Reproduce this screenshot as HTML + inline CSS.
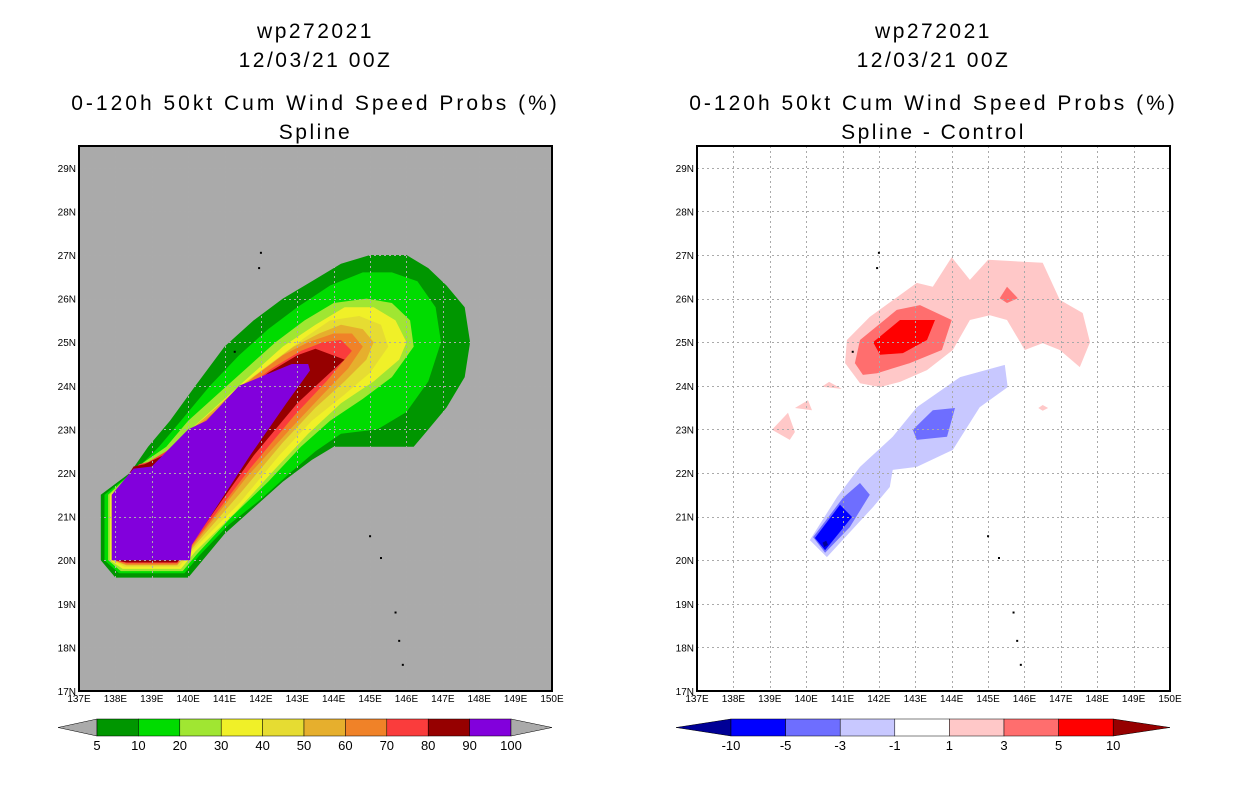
<!DOCTYPE html>
<html><head><meta charset="utf-8"><style>
body{margin:0;background:#fff;}
svg{display:block;font-family:"Liberation Sans",sans-serif;}
</style></head><body>
<svg id="root" width="1236" height="800" viewBox="0 0 1236 800">
<g id="left"></g>
<g id="right"></g>
</svg>
<script>
const lonTicks=[137,138,139,140,141,142,143,144,145,146,147,148,149,150];
const latTicks=[17,18,19,20,21,22,23,24,25,26,27,28,29];
const probLevels=['5','10','20','30','40','50','60','70','80','90','100'];
const probColors=['#009600','#00dc00','#a0e632','#f0f028','#e6dc32','#e6af2d','#f08228','#fa3c3c','#960000','#8200dc'];
const diffLevels=['-10','-5','-3','-1','1','3','5','10'];
const diffColors=['#000096','#0000ff','#6e6eff','#c8c8ff','#ffffff','#ffc8c8','#ff6e6e','#ff0000','#960000'];
const probBands=[
[[137.6,21.5],[137.6,20.0],[138.0,19.6],[140.0,19.6],[140.4,20.0],[141.0,20.6],[141.8,21.2],[142.6,21.8],[143.4,22.3],[144.0,22.6],[145.2,22.6],[146.2,22.6],[146.5,22.9],[147.1,23.5],[147.6,24.2],[147.75,25.0],[147.6,25.8],[147.1,26.3],[146.6,26.7],[146.0,27.0],[145.0,27.0],[144.2,26.8],[143.4,26.4],[142.6,26.0],[141.8,25.5],[141.0,24.9],[140.2,24.0],[139.5,23.2],[138.9,22.6],[138.4,22.0]],
[[137.7,21.5],[137.7,20.0],[138.1,19.7],[139.9,19.7],[140.3,20.1],[141.1,20.8],[142.0,21.4],[142.8,22.0],[143.5,22.5],[144.2,22.9],[145.2,23.0],[146.0,23.4],[146.6,24.1],[146.95,25.0],[146.8,25.8],[146.3,26.4],[145.6,26.6],[144.8,26.6],[143.9,26.3],[143.0,25.8],[142.2,25.3],[141.4,24.7],[140.6,24.0],[139.8,23.2],[139.2,22.6],[138.6,22.1]],
[[137.8,21.5],[137.8,20.0],[138.15,19.75],[139.85,19.75],[140.25,20.15],[141.2,21.0],[142.2,21.8],[143.1,22.6],[143.9,23.2],[144.8,23.7],[145.6,24.2],[146.2,24.9],[146.1,25.5],[145.6,25.9],[144.9,26.0],[144.0,25.9],[143.2,25.5],[142.4,25.0],[141.6,24.4],[140.8,23.8],[140.0,23.2],[139.4,22.6],[138.7,22.2]],
[[137.85,21.5],[137.85,20.0],[138.2,19.8],[139.8,19.8],[140.2,20.2],[141.3,21.1],[142.4,22.1],[143.3,22.9],[144.2,23.6],[145.1,24.1],[145.8,24.6],[146.0,25.0],[145.7,25.5],[145.1,25.8],[144.3,25.8],[143.5,25.4],[142.6,24.9],[141.8,24.3],[141.0,23.7],[140.2,23.1],[139.5,22.5],[138.8,22.2]],
[[137.9,21.5],[137.9,20.0],[138.25,19.85],[139.75,19.85],[140.15,20.25],[141.4,21.3],[142.5,22.4],[143.4,23.2],[144.3,23.8],[145.0,24.3],[145.5,24.9],[145.3,25.4],[144.7,25.6],[143.9,25.5],[143.2,25.1],[142.4,24.6],[141.6,24.1],[140.8,23.5],[140.0,22.9],[139.3,22.4],[138.8,22.2]],
[[137.92,21.5],[137.92,20.0],[138.3,19.88],[139.7,19.88],[140.12,20.28],[141.5,21.6],[142.6,22.7],[143.5,23.5],[144.3,24.1],[144.9,24.6],[145.1,25.0],[144.8,25.3],[144.2,25.4],[143.6,25.2],[142.9,24.9],[142.1,24.4],[141.3,23.9],[140.5,23.3],[139.8,22.8],[139.2,22.35],[138.75,22.2]],
[[137.95,21.5],[137.95,20.0],[138.3,19.9],[139.7,19.9],[140.1,20.3],[141.6,21.9],[142.8,23.0],[143.7,23.8],[144.4,24.4],[144.8,24.9],[144.5,25.2],[144.0,25.2],[143.3,25.0],[142.6,24.7],[141.8,24.2],[141.0,23.6],[140.3,23.1],[139.6,22.6],[139.1,22.3],[138.7,22.2]],
[[137.97,21.5],[137.97,20.0],[138.3,19.93],[139.7,19.93],[140.08,20.32],[141.7,22.1],[142.9,23.3],[143.8,24.1],[144.5,24.8],[144.2,25.05],[143.7,25.0],[143.1,24.8],[142.3,24.4],[141.5,23.9],[140.7,23.3],[140.0,22.9],[139.4,22.5],[138.9,22.25],[138.65,22.2]],
[[138.0,21.5],[138.0,20.0],[138.3,19.95],[139.7,19.95],[140.05,20.33],[141.8,22.4],[143.0,23.6],[143.9,24.3],[144.3,24.6],[143.5,24.85],[143.0,24.7],[142.2,24.3],[141.3,23.7],[140.5,23.15],[139.9,22.8],[139.3,22.4],[138.8,22.2],[138.5,22.15]],
[[137.9,21.5],[137.9,20.0],[140.05,20.0],[140.1,20.35],[141.7,22.4],[142.7,23.6],[143.35,24.35],[143.3,24.5],[142.85,24.5],[141.4,24.0],[140.5,23.2],[140.0,23.0],[139.0,22.15],[138.5,22.1]]
];
const diffBands=[
[5,[[141.07,24.52],[141.12,25.05],[141.75,25.58],[143.04,26.36],[143.48,26.27],[144.0,26.95],[144.5,26.43],[145.0,26.89],[146.5,26.82],[146.97,25.97],[147.6,25.67],[147.8,25.0],[147.52,24.43],[146.97,24.82],[146.5,24.98],[146.01,24.82],[145.52,25.51],[145.05,25.62],[144.5,25.51],[144.03,24.82],[143.32,24.36],[142.58,24.09],[142.03,23.97],[141.48,24.06]]],
[6,[[141.34,24.52],[141.48,25.05],[142.49,25.74],[143.13,25.85],[144.0,25.51],[143.73,24.82],[142.85,24.52],[141.95,24.29],[141.56,24.25]]],
[7,[[141.84,25.0],[142.58,25.51],[143.54,25.51],[143.32,25.05],[142.66,24.75],[142.03,24.71]]],
[6,[[145.52,26.27],[145.82,26.01],[145.52,25.9],[145.32,26.01]]],
[5,[[140.43,23.98],[140.63,24.09],[140.98,23.93]]],
[5,[[139.69,23.49],[140.05,23.67],[140.16,23.44]]],
[5,[[139.06,22.99],[139.5,23.38],[139.69,22.94],[139.55,22.76]]],
[5,[[146.38,23.49],[146.5,23.56],[146.65,23.49],[146.5,23.43]]],
[3,[[140.1,20.46],[140.85,21.45],[141.48,22.14],[142.38,22.83],[143.04,23.51],[144.23,24.2],[145.46,24.48],[145.54,23.97],[144.77,23.51],[144.03,22.53],[143.04,22.14],[142.38,22.07],[142.3,21.68],[141.84,21.22],[140.57,20.07]]],
[2,[[142.93,22.99],[143.48,23.44],[144.09,23.49],[143.87,22.83],[143.04,22.76]]],
[2,[[140.19,20.53],[141.01,21.43],[141.48,21.77],[141.75,21.5],[141.2,20.76],[140.52,20.17]]],
[1,[[140.24,20.51],[140.93,21.27],[141.26,20.99],[140.52,20.23]]],
[0,[[140.45,20.4],[140.55,20.45],[140.6,20.35],[140.5,20.3]]]
];
const islands=[[142.0,27.05],[141.95,26.7],[141.28,24.78],[145.0,20.55],[145.3,20.05],[145.7,18.8],[145.8,18.15],[145.9,17.6]];
const SVGNS='http://www.w3.org/2000/svg';
function mk(tag,attrs,parent){const e=document.createElementNS(SVGNS,tag);for(const k in attrs)e.setAttribute(k,attrs[k]);parent.appendChild(e);return e;}
function panel(g,x0,title2,bg){
  const W=473,H=545,y0=146;
  const xs=lon=>x0+(lon-137)/13*W;
  const ys=lat=>y0+(29.5-lat)/12.5*H;
  const cx=x0+W/2;
  [['wp272021',38,2.5],['12/03/21 00Z',67,2.5],['0-120h 50kt Cum Wind Speed Probs (%)',110,3],[title2,139,2.5]].forEach((t,i)=>{
    const e=mk('text',{x:cx,y:t[1],'text-anchor':'middle','font-size':'21','letter-spacing':t[2],fill:'#000'},g);
    e.textContent=t[0];
    
    
  });
  const bgR=mk('rect',{x:x0,y:y0,width:W,height:H,fill:bg},g);
  
  
  return {xs,ys,W,H,y0};
}
function grid(g,p,x0,gc){
  lonTicks.forEach(l=>{if(l>137&&l<150){mk('line',{x1:Math.round(p.xs(l))+0.5,x2:Math.round(p.xs(l))+0.5,y1:p.y0,y2:p.y0+p.H,stroke:gc,'stroke-dasharray':'2,3','shape-rendering':'crispEdges'},g);}});
  latTicks.forEach(l=>{if(l>17){mk('line',{x1:x0,x2:x0+p.W,y1:Math.round(p.ys(l))+0.5,y2:Math.round(p.ys(l))+0.5,stroke:gc,'stroke-dasharray':'2,3','shape-rendering':'crispEdges'},g);}});
  islands.forEach(d=>{const e=mk('rect',{x:p.xs(d[0])-1,y:p.ys(d[1])-1,width:2,height:2,fill:'#000'},g);
    
    });
  const fr=mk('rect',{x:x0,y:p.y0,width:p.W,height:p.H,fill:'none',stroke:'#000','stroke-width':2},g);
  
  
  lonTicks.forEach(l=>{const t=mk('text',{x:p.xs(l),y:p.y0+p.H+11,'text-anchor':'middle','font-size':'10',fill:'#000'},g);t.textContent=l+'E';
    
    });
  latTicks.forEach(l=>{const t=mk('text',{x:x0-3,y:p.ys(l)+4,'text-anchor':'end','font-size':'10',fill:'#000'},g);t.textContent=l+'N';
    
    });
}
function poly(g,pts,p,fill){return mk('polygon',{points:pts.map(q=>p.xs(q[0]).toFixed(1)+','+p.ys(q[1]).toFixed(1)).join(' '),fill:fill},g);}
const L=document.getElementById('left');
const pl=panel(L,79,'Spline','#aaaaaa');
probBands.forEach((b,i)=>{const e=poly(L,b,pl,probColors[i]);
  
  });
grid(L,pl,79,'#ababab');
(function(){const y=719,h=17,x1=97,bw=41.4;
  const lt=mk('polygon',{points:`58,${y+h/2} ${x1},${y} ${x1},${y+h}`,fill:'#aaaaaa',stroke:'#000','stroke-width':0.5},L);
  
  
  probColors.forEach((c,i)=>{const r=mk('rect',{x:x1+i*bw,y:y,width:bw,height:h,fill:c,stroke:'#000','stroke-width':0.5},L);
    
    });
  const xe=x1+probColors.length*bw;
  const rt=mk('polygon',{points:`${xe},${y} 552,${y+h/2} ${xe},${y+h}`,fill:'#aaaaaa',stroke:'#000','stroke-width':0.5},L);
  
  
  probLevels.forEach((t,i)=>{const e=mk('text',{x:x1+i*bw,y:750,'text-anchor':'middle','font-size':'13',fill:'#000'},L);e.textContent=t;
    
    });
})();
const R=document.getElementById('right');
const pr=panel(R,697,'Spline - Control','#ffffff');
diffBands.forEach(b=>{const e=poly(R,b[1],pr,diffColors[b[0]]);
  
  });
grid(R,pr,697,'#aaaaaa');
(function(){const y=719,h=17,x1=731,bw=54.6;
  const lt=mk('polygon',{points:`676,${y+h/2} ${x1},${y} ${x1},${y+h}`,fill:diffColors[0],stroke:'#000','stroke-width':0.5},R);
  
  
  for(let i=1;i<diffColors.length-1;i++){const r=mk('rect',{x:x1+(i-1)*bw,y:y,width:bw,height:h,fill:diffColors[i],stroke:'#000','stroke-width':0.5},R);
    
    }
  const xe=x1+(diffColors.length-2)*bw;
  const rt=mk('polygon',{points:`${xe},${y} 1170,${y+h/2} ${xe},${y+h}`,fill:diffColors[diffColors.length-1],stroke:'#000','stroke-width':0.5},R);
  
  
  diffLevels.forEach((t,i)=>{const e=mk('text',{x:x1+i*bw,y:750,'text-anchor':'middle','font-size':'13',fill:'#000'},R);e.textContent=t;
    
    });
})();
</script>
</body></html>
